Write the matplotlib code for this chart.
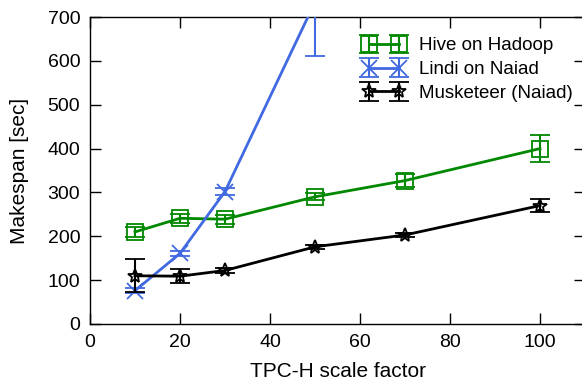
import matplotlib
matplotlib.use("Agg")
import matplotlib.pyplot as plt

plt.rcParams['font.family'] = ['Liberation Sans', 'DejaVu Sans']

scale = [10, 20, 30, 50, 70, 100]
hive = [210, 241, 239, 290, 327, 400]
hive_err = [12, 10, 10, 8, 15, 31]
lindi_x = [10, 20, 30, 50]
lindi = [76, 161, 302, 734]
lindi_err = [5, 5, 8, 123]
musk = [110, 109, 122, 176, 203, 270]
musk_err = [38, 16, 5, 5, 5, 15]

W, H = 582, 384
fig = plt.figure(figsize=(W / 100, H / 100), dpi=100)
ax = fig.add_axes([90 / W, 1 - 324 / H, 495 / W, 307 / H])

green = '#008800'
blue = '#4169E1'

ax.errorbar(scale, hive, yerr=hive_err, color=green, lw=2, marker='s', ms=11,
            mfc='none', mew=1.3, capsize=7, elinewidth=1.5, capthick=1.5,
            label='Hive on Hadoop', zorder=3)
ax.errorbar(lindi_x, lindi, yerr=lindi_err, color=blue, lw=2, marker='x', ms=11,
            mew=1.3, capsize=7, elinewidth=1.5, capthick=1.5,
            label='Lindi on Naiad', zorder=4)
ax.errorbar(scale, musk, yerr=musk_err, color='black', lw=2, marker='*', ms=10,
            mfc='none', mew=1.3, capsize=7, elinewidth=1.5, capthick=1.5,
            label='Musketeer (Naiad)', zorder=5)

ax.set_xlim(0, 110)
ax.set_ylim(0, 700)
ax.set_xticks([0, 20, 40, 60, 80, 100])
ax.set_yticks(range(0, 701, 100))
ax.tick_params(direction='in', length=8, width=1, top=True, right=True,
               labelsize=14, pad=7)
for s in ax.spines.values():
    s.set_linewidth(1)

ax.set_xlabel('TPC-H scale factor', fontsize=15, labelpad=8)
ax.set_ylabel('Makespan [sec]', fontsize=15, labelpad=13)

leg = ax.legend(loc='upper left', bbox_to_anchor=(354 / W, 1 - 28 / H),
                bbox_transform=fig.transFigure, frameon=False, fontsize=13.5,
                numpoints=2, handlelength=2.2, handletextpad=0.75,
                labelspacing=0.35, borderpad=0)

fig.savefig('out.png', dpi=100)
